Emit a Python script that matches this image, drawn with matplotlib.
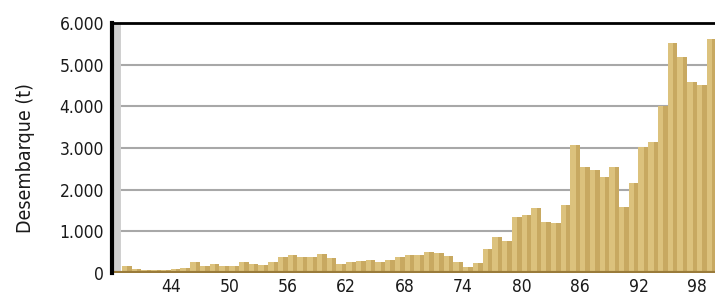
import numpy as np
import matplotlib
matplotlib.use("Agg")
import matplotlib.pyplot as plt
from matplotlib.ticker import FuncFormatter

# landings per year (t), one bar per year starting 1938
years = list(range(38, 100))
desembarque = [
    0, 170, 90, 80, 80, 80, 90, 130, 255, 160,
    215, 160, 160, 255, 210, 200, 260, 390, 430, 390,
    390, 450, 350, 210, 260, 290, 300, 270, 310, 390,
    430, 430, 510, 490, 410, 270, 140, 230, 580, 870,
    760, 1350, 1390, 1560, 1220, 1200, 1630, 3070, 2550, 2470,
    2300, 2550, 1590, 2160, 3020, 3150, 4000, 5520, 5190, 4590,
    4510, 5610,
]
xticks = [44, 50, 56, 62, 68, 74, 80, 86, 92, 98]
yticks = [0, 1000, 2000, 3000, 4000, 5000, 6000]

plt.rcParams['font.family'] = ['Liberation Sans Narrow', 'DejaVu Sans']
plt.rcParams['font.stretch'] = 'condensed'

fig = plt.figure(figsize=(7.15, 2.97), dpi=100)
ax = fig.add_axes([0.157, 0.081, 0.843, 0.8414])

# two-tone bars to mimic the shaded look
ax.bar(years, desembarque, width=1.0, align='edge', color='#dcc27d', linewidth=0, zorder=2)
ax.bar(np.array(years) + 0.55, desembarque, width=0.45, align='edge', color='#c8a961',
       linewidth=0, zorder=2)

ax.set_xlim(38, 99.85)
ax.set_ylim(0, 6000)
ax.set_yticks(yticks)
ax.set_xticks(xticks)
ax.set_xticklabels([str(t) for t in xticks])
ax.yaxis.set_major_formatter(FuncFormatter(lambda v, p: "{:,.0f}".format(v).replace(",", ".")))

for v in yticks[1:-1]:
    ax.axhline(v, color='#a8a8a8', lw=1.5, zorder=1)
ax.axvline(38.45, color='#cfcfcf', lw=5, zorder=1.5)
ax.axhline(0, color='#9a7b3a', lw=3, zorder=3)

ax.spines['right'].set_visible(False)
ax.spines['bottom'].set_visible(False)
ax.spines['left'].set_linewidth(3)
ax.spines['top'].set_linewidth(2)
ax.spines['left'].set_zorder(4)

ax.tick_params(axis='both', length=0, labelsize=12.5, labelcolor='#1a1a1a')
ax.tick_params(axis='y', pad=6)
ax.tick_params(axis='x', pad=4)
ax.set_ylabel("Desembarque (t)", fontsize=14, color='#1a1a1a')
ax.yaxis.set_label_coords(-0.128, 0.46)

plt.savefig("out.png", dpi=100)
